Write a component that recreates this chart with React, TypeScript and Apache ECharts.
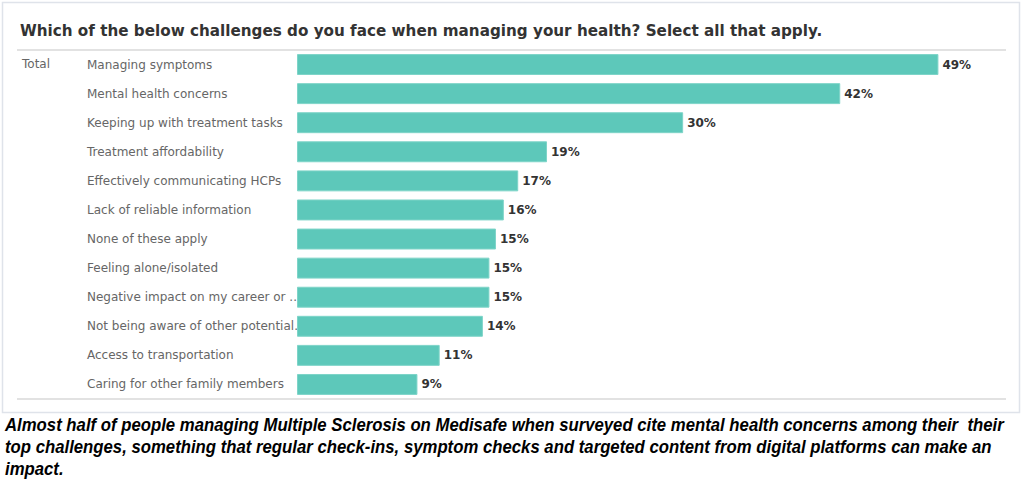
import React, { useEffect, useRef } from "react";
import * as echarts from "echarts";

const titleText =
  "Which of the below challenges do you face when managing your health? Select all that apply.";
const groupLabel = "Total";
const categories = [
  "Managing symptoms",
  "Mental health concerns",
  "Keeping up with treatment tasks",
  "Treatment affordability",
  "Effectively communicating HCPs",
  "Lack of reliable information",
  "None of these apply",
  "Feeling alone/isolated",
  "Negative impact on my career or ..",
  "Not being aware of other potential.",
  "Access to transportation",
  "Caring for other family members",
];
// bar lengths (percent)
const values = [49.0, 41.5, 29.5, 19.1, 16.9, 15.8, 15.2, 14.7, 14.7, 14.2, 10.9, 9.2];
// value labels as printed on the chart
const shownLabels = ["49%", "42%", "30%", "19%", "17%", "16%", "15%", "15%", "15%", "14%", "11%", "9%"];
const captionLines = [
  "Almost half of people managing Multiple Sclerosis on Medisafe when surveyed cite mental health concerns among their  their",
  "top challenges, something that regular check-ins, symptom checks and targeted content from digital platforms can make an",
  "impact.",
];

export default function App() {
  const ref = useRef<HTMLDivElement>(null);
  useEffect(() => {
    document.body.style.margin = "0";
    const chart = echarts.init(ref.current!, null, { renderer: "svg" });
    const captionFont = '"Liberation Sans Narrow", "Liberation Sans", Arial, sans-serif';
    chart.setOption({
      animation: false,
      backgroundColor: "#ffffff",
      grid: { left: 297, top: 50, width: 654.5, height: 349, containLabel: false },
      xAxis: {
        type: "value",
        min: 0,
        max: 50,
        show: false,
      },
      yAxis: {
        type: "category",
        inverse: true,
        data: categories,
        axisLine: { show: false },
        axisTick: { show: false },
        splitLine: { show: false },
        axisLabel: {
          align: "left",
          margin: 210,
          color: "#666666",
          fontSize: 12,
          fontFamily: "DejaVu Sans",
        },
      },
      series: [
        {
          type: "bar",
          data: values,
          barCategoryGap: "28%",
          itemStyle: { color: "#5dc8ba", borderColor: "#7ed4c8", borderWidth: 1 },
          label: {
            show: true,
            position: "right",
            distance: 4,
            color: "#333333",
            fontSize: 12,
            fontWeight: "bold",
            fontFamily: "DejaVu Sans",
            formatter: (p: any) => shownLabels[p.dataIndex],
          },
        },
      ],
      graphic: [
        {
          type: "rect",
          z: -10,
          shape: { x: 2.5, y: 2.5, width: 1017, height: 410 },
          style: { fill: "#ffffff", stroke: "#dfe3ea", lineWidth: 1.5 },
        },
        {
          type: "line",
          shape: { x1: 17, y1: 50, x2: 1006, y2: 50 },
          style: { stroke: "#e2e2e2", lineWidth: 2 },
        },
        {
          type: "line",
          shape: { x1: 17, y1: 399, x2: 1006, y2: 399 },
          style: { stroke: "#e2e2e2", lineWidth: 2 },
        },
        {
          type: "text",
          x: 20,
          y: 31,
          style: {
            text: titleText,
            fill: "#333333",
            font: "bold 15.2px 'DejaVu Sans'",
            verticalAlign: "middle",
          },
        },
        {
          type: "text",
          x: 22,
          y: 64,
          style: {
            text: groupLabel,
            fill: "#666666",
            font: "12px 'DejaVu Sans'",
            verticalAlign: "middle",
          },
        },
        ...captionLines.map((t, i) => ({
          type: "text",
          x: 5,
          y: 425 + i * 22,
          scaleX: 0.93,
          style: {
            text: t,
            fill: "#000000",
            font: `italic bold 18px ${captionFont}`,
            verticalAlign: "middle",
          },
        })),
      ],
    });
    return () => chart.dispose();
  }, []);
  return <div ref={ref} style={{ width: 1024, height: 486 }} />;
}
